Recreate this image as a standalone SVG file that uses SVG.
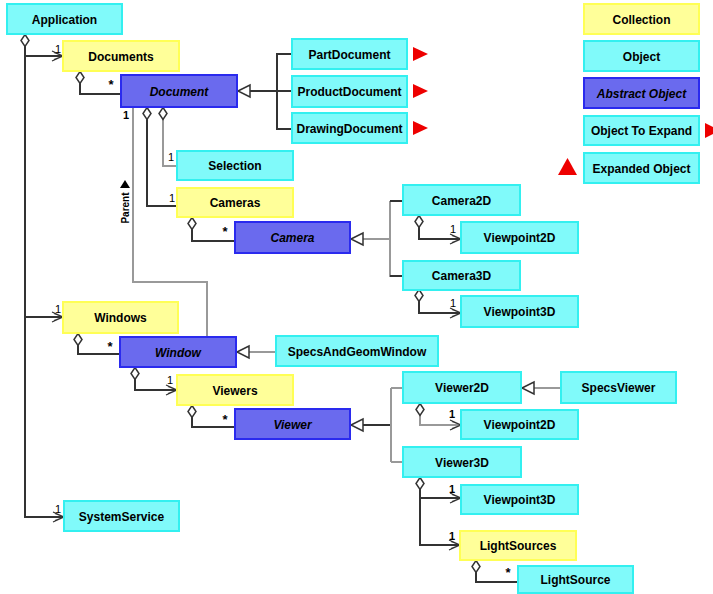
<svg xmlns="http://www.w3.org/2000/svg" width="713" height="594" viewBox="0 0 713 594">
<style>
text{font-family:"Liberation Sans",Arial,sans-serif;}
.t{font-size:12px;font-weight:bold;text-anchor:middle;fill:#000;}
.ti{font-size:12px;font-weight:bold;font-style:italic;text-anchor:middle;fill:#000;}
.obj{fill:#80fafa;stroke:#33f0f0;stroke-width:2;}
.col{fill:#ffff99;stroke:#ffff55;stroke-width:2;}
.abs{fill:#6a6aee;stroke:#2a2aee;stroke-width:2;}
.m{font-size:11px;text-anchor:middle;fill:#000;}
.s{font-size:13px;font-weight:bold;text-anchor:middle;fill:#000;}
.ln{fill:none;stroke:#333;stroke-width:2;}
.lg{fill:none;stroke:#999;stroke-width:2;}
.red{fill:#ee0000;}
</style>
<defs>
<marker id="dia" markerUnits="userSpaceOnUse" markerWidth="16" markerHeight="12" refX="0" refY="6" orient="auto" viewBox="0 0 16 12" overflow="visible">
<path d="M0.5,6 L6.5,2 L12.5,6 L6.5,10 Z" fill="#fff" stroke="#333" stroke-width="1.5"/>
</marker>
<marker id="arr" markerUnits="userSpaceOnUse" markerWidth="14" markerHeight="14" refX="12" refY="7" orient="auto" viewBox="0 0 14 14" overflow="visible">
<path d="M1,2 L12,7 L1,12 M3,3.5 L12,7 L3,10.5" fill="none" stroke="#333" stroke-width="1.2"/>
</marker>
<marker id="inh" markerUnits="userSpaceOnUse" markerWidth="16" markerHeight="16" refX="0" refY="8" orient="auto" viewBox="0 0 16 16" overflow="visible">
<path d="M1,8 L13,2 L13,14 Z" fill="#fff" stroke="#333" stroke-width="1.5"/>
</marker>
</defs>
<rect width="713" height="594" fill="#fff"/>

<g id="connectors">
<!-- Application -->
<path class="ln" d="M25,34 V517 H64" marker-start="url(#dia)" marker-end="url(#arr)"/>
<path class="ln" d="M25,56 H63" marker-end="url(#arr)"/>
<path class="ln" d="M25,317 H63" marker-end="url(#arr)"/>
<!-- Documents -> Document -->
<path class="ln" d="M80,71 V94 H121" marker-start="url(#dia)"/>
<!-- Document inheritance -->
<path class="ln" d="M237,91 H292" marker-start="url(#inh)"/>
<path class="ln" d="M292,54 H277 V129 H292"/>
<!-- Document aggregations -->
<path class="ln" d="M147,107 V206 H177" marker-start="url(#dia)"/>
<path class="lg" d="M163,107 V166 H177" marker-start="url(#dia)"/>
<!-- Parent -->
<path class="lg" d="M133,107 V282 H207 V337"/>
<!-- Cameras -> Camera -->
<path class="ln" d="M192,217 V241 H235" marker-start="url(#dia)"/>
<!-- Camera inheritance -->
<path class="lg" d="M350,239 H390" marker-start="url(#inh)"/>
<path class="lg" d="M390,201 V277"/>
<path class="ln" d="M390,201 H403 M390,276 H403"/>
<!-- Camera2D/3D -> Viewpoints -->
<path class="ln" d="M419,215 V239 H461" stroke-width="1.5" marker-start="url(#dia)" marker-end="url(#arr)"/>
<path class="ln" d="M419,289 V313 H461" stroke-width="1.5" marker-start="url(#dia)" marker-end="url(#arr)"/>
<!-- Windows -> Window -->
<path class="ln" d="M78,333 V354 H120" marker-start="url(#dia)"/>
<!-- SpecsAndGeomWindow -> Window -->
<path class="lg" d="M236,352 H276" stroke-width="3" marker-start="url(#inh)"/>
<!-- Window -> Viewers -->
<path class="ln" d="M135,367 V390 H177" marker-start="url(#dia)" marker-end="url(#arr)"/>
<!-- Viewers -> Viewer -->
<path class="ln" d="M192,405 V427 H235" marker-start="url(#dia)"/>
<!-- Viewer inheritance -->
<path class="ln" d="M350,425 H391" stroke-width="3" marker-start="url(#inh)"/>
<path class="lg" d="M391,388 V462 M391,388 H403 M391,462 H403"/>
<!-- SpecsViewer -> Viewer2D -->
<path class="lg" d="M521,388 H561" stroke-width="3" marker-start="url(#inh)"/>
<!-- Viewer2D -> Viewpoint2D -->
<path class="lg" d="M420,403 V425 H461" marker-start="url(#dia)" marker-end="url(#arr)"/>
<!-- Viewer3D -> Viewpoint3D, LightSources -->
<path class="ln" d="M420,477 V545 H460" marker-start="url(#dia)" marker-end="url(#arr)"/>
<path class="ln" d="M420,498 H461" marker-end="url(#arr)"/>
<!-- LightSources -> LightSource -->
<path class="ln" d="M476,560 V582 H518" marker-start="url(#dia)"/>
<!-- Parent label -->
<path d="M125,180 L130,188 L120,188 Z" fill="#000"/>
<text transform="translate(129,208) rotate(-90)" style="font-size:10px;font-weight:bold;text-anchor:middle;">Parent</text>
<!-- multiplicities -->
<text class="m" x="58" y="53">1</text>
<text class="m" x="58" y="313">1</text>
<text class="m" x="58" y="513">1</text>
<text class="s" x="111" y="89">*</text>
<text class="m" x="126" y="119" font-weight="bold">1</text>
<text class="m" x="171" y="161">1</text>
<text class="m" x="172" y="202">1</text>
<text class="s" x="225" y="236">*</text>
<text class="s" x="110" y="351">*</text>
<text class="m" x="170" y="384">1</text>
<text class="s" x="225" y="424">*</text>
<text class="m" x="453" y="233">1</text>
<text class="m" x="453" y="307">1</text>
<text class="m" x="452" y="418" font-weight="bold">1</text>
<text class="m" x="452" y="493" font-weight="bold">1</text>
<text class="m" x="452" y="540" font-weight="bold">1</text>
<text class="s" x="508" y="577">*</text>
</g>

<g id="Application"><rect class="obj" x="7" y="4" width="115" height="30"/><text class="t" x="64.5" y="23.5">Application</text></g>
<g id="Documents"><rect class="col" x="63" y="41" width="116" height="30"/><text class="t" x="121" y="60.5">Documents</text></g>
<g id="Document"><rect class="abs" x="121" y="75" width="116" height="32"/><text class="ti" x="179" y="95.5">Document</text></g>
<g id="PartDocument"><rect class="obj" x="292" y="39" width="115" height="30"/><text class="t" x="349.5" y="58.5">PartDocument</text><path class="red" d="M413,47 L428,54 L413,61 Z"/></g>
<g id="ProductDocument"><rect class="obj" x="292" y="76" width="115" height="31"/><text class="t" x="349.5" y="95.5">ProductDocument</text><path class="red" d="M413,84 L428,91 L413,98 Z"/></g>
<g id="DrawingDocument"><rect class="obj" x="292" y="113" width="115" height="30"/><text class="t" x="349.5" y="132.5">DrawingDocument</text><path class="red" d="M413,121 L428,128 L413,135 Z"/></g>
<g id="Selection"><rect class="obj" x="177" y="151" width="116" height="29"/><text class="t" x="235" y="170">Selection</text></g>
<g id="Cameras"><rect class="col" x="177" y="188" width="116" height="29"/><text class="t" x="235" y="207">Cameras</text></g>
<g id="Camera"><rect class="abs" x="235" y="222" width="115" height="31"/><text class="ti" x="292.5" y="242">Camera</text></g>
<g id="Camera2D"><rect class="obj" x="403" y="185" width="117" height="30"/><text class="t" x="461.5" y="204.5">Camera2D</text></g>
<g id="CameraViewpoint2D"><rect class="obj" x="461" y="222" width="117" height="31"/><text class="t" x="519.5" y="242">Viewpoint2D</text></g>
<g id="Camera3D"><rect class="obj" x="403" y="261" width="117" height="29"/><text class="t" x="461.5" y="280">Camera3D</text></g>
<g id="CameraViewpoint3D"><rect class="obj" x="461" y="296" width="117" height="31"/><text class="t" x="519.5" y="316">Viewpoint3D</text></g>
<g id="Windows"><rect class="col" x="63" y="302" width="115" height="31"/><text class="t" x="120.5" y="322">Windows</text></g>
<g id="Window"><rect class="abs" x="120" y="337" width="116" height="30"/><text class="ti" x="178" y="356.5">Window</text></g>
<g id="SpecsAndGeomWindow"><rect class="obj" x="276" y="336" width="162" height="30"/><text class="t" x="357" y="355.5">SpecsAndGeomWindow</text></g>
<g id="Viewers"><rect class="col" x="177" y="375" width="116" height="30"/><text class="t" x="235" y="394.5">Viewers</text></g>
<g id="Viewer"><rect class="abs" x="235" y="409" width="115" height="30"/><text class="ti" x="292.5" y="428.5">Viewer</text></g>
<g id="Viewer2D"><rect class="obj" x="403" y="372" width="118" height="31"/><text class="t" x="462" y="392">Viewer2D</text></g>
<g id="SpecsViewer"><rect class="obj" x="561" y="372" width="115" height="31"/><text class="t" x="618.5" y="392">SpecsViewer</text></g>
<g id="ViewerViewpoint2D"><rect class="obj" x="461" y="410" width="117" height="29"/><text class="t" x="519.5" y="429">Viewpoint2D</text></g>
<g id="Viewer3D"><rect class="obj" x="403" y="447" width="118" height="30"/><text class="t" x="462" y="466.5">Viewer3D</text></g>
<g id="ViewerViewpoint3D"><rect class="obj" x="461" y="485" width="117" height="29"/><text class="t" x="519.5" y="504">Viewpoint3D</text></g>
<g id="LightSources"><rect class="col" x="460" y="531" width="116" height="29"/><text class="t" x="518" y="550">LightSources</text></g>
<g id="LightSource"><rect class="obj" x="518" y="566" width="115" height="27"/><text class="t" x="575.5" y="584">LightSource</text></g>
<g id="SystemService"><rect class="obj" x="64" y="501" width="115" height="30"/><text class="t" x="121.5" y="520.5">SystemService</text></g>

<g id="legend">
<g id="LegendCollection"><rect class="col" x="584" y="4" width="115" height="30"/><text class="t" x="641.5" y="23.5">Collection</text></g>
<g id="LegendObject"><rect class="obj" x="584" y="41" width="115" height="30"/><text class="t" x="641.5" y="60.5">Object</text></g>
<g id="LegendAbstract"><rect class="abs" x="584" y="78" width="115" height="30"/><text class="ti" x="641.5" y="97.5">Abstract Object</text></g>
<g id="LegendToExpand"><rect class="obj" x="584" y="116" width="115" height="29"/><text class="t" x="641.5" y="135">Object To Expand</text><path class="red" d="M705,123 L720,130.5 L705,138 Z"/></g>
<g id="LegendExpanded"><rect class="obj" x="584" y="153" width="115" height="30"/><text class="t" x="641.5" y="172.5">Expanded Object</text><path class="red" d="M567.5,158 L577,175 L558,175 Z"/></g>
</g>
</svg>
